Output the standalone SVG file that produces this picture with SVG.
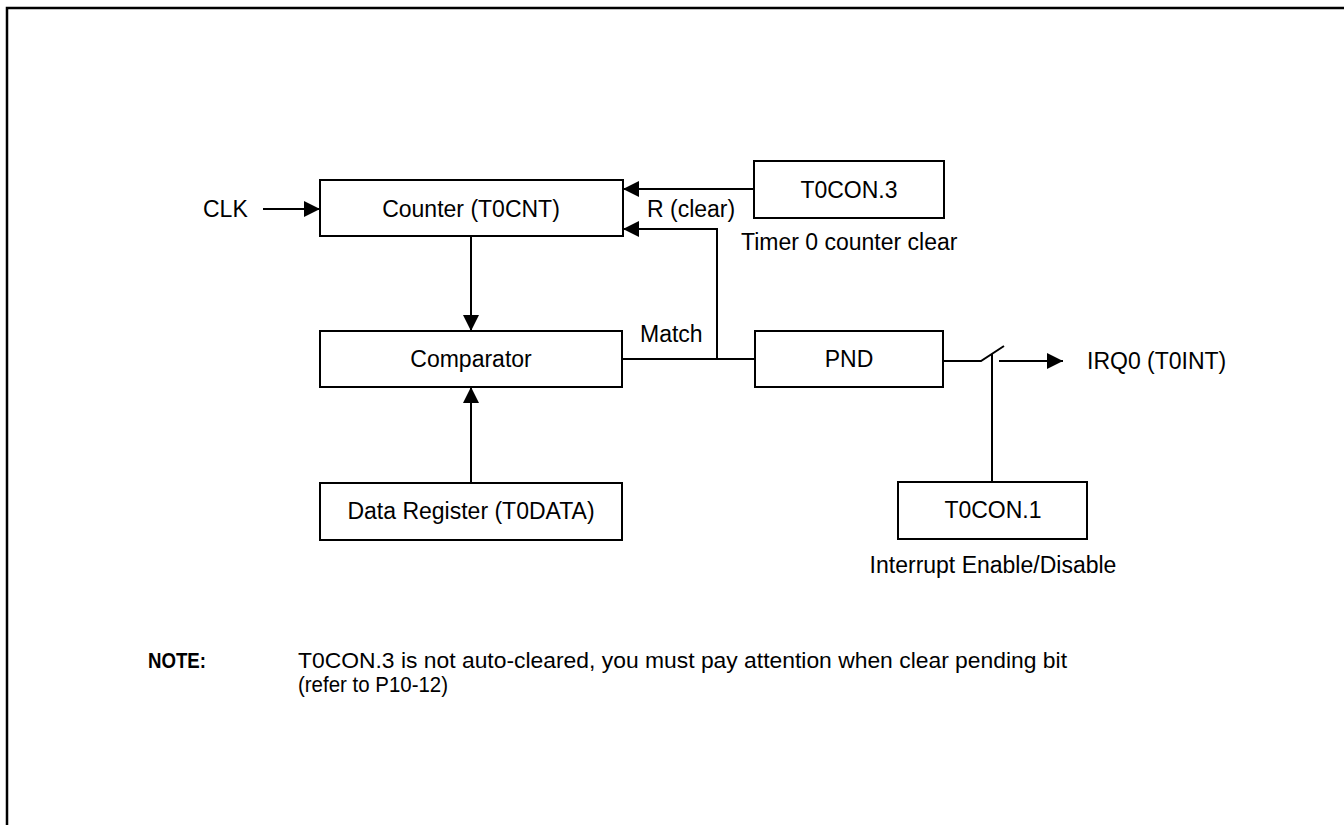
<svg xmlns="http://www.w3.org/2000/svg" width="1344" height="825" viewBox="0 0 1344 825">
<defs>
<marker id="ah" markerUnits="userSpaceOnUse" markerWidth="16" markerHeight="16" refX="16" refY="8" orient="auto">
<path d="M0,0 L16,8 L0,16 Z" fill="#000"/>
</marker>
<style>
.box{fill:#fff;stroke:#000;stroke-width:2}
.ln{fill:none;stroke:#000;stroke-width:2}
.t{font-family:"Liberation Sans",Arial,sans-serif;font-size:23px;fill:#000}
.m{text-anchor:middle}
.n{font-family:"Liberation Sans Narrow","Liberation Sans",Arial,sans-serif;font-size:22px;fill:#000}
</style>
</defs>
<rect width="1344" height="825" fill="#fff"/>
<path d="M7,825 V8 H1344" fill="none" stroke="#000" stroke-width="2.5"/>

<g id="connectors">
<line class="ln" x1="263" y1="209" x2="320" y2="209" marker-end="url(#ah)"/>
<line class="ln" x1="754" y1="189" x2="623" y2="189" marker-end="url(#ah)"/>
<polyline class="ln" points="717,359 717,229 623,229" marker-end="url(#ah)"/>
<line class="ln" x1="471" y1="236" x2="471" y2="331" marker-end="url(#ah)"/>
<line class="ln" x1="471" y1="483" x2="471" y2="387" marker-end="url(#ah)"/>
<line class="ln" x1="622" y1="359" x2="755" y2="359"/>
<polyline class="ln" points="943,361 981,361 1004,346"/>
<line class="ln" x1="992" y1="354" x2="992" y2="482"/>
<line class="ln" x1="999" y1="361" x2="1063" y2="361" marker-end="url(#ah)"/>
</g>

<g id="clk"><text class="t" x="203" y="217">CLK</text></g>
<g id="counter"><rect class="box" x="320" y="180" width="303" height="56"/><text class="t m" x="471" y="217">Counter (T0CNT)</text></g>
<g id="t0con3"><rect class="box" x="754" y="161" width="190" height="57"/><text class="t m" x="849" y="198">T0CON.3</text></g>
<g id="rclear"><text class="t" x="647" y="217">R (clear)</text></g>
<g id="timerclear"><text class="t" x="741" y="250">Timer 0 counter clear</text></g>
<g id="match"><text class="t" x="640" y="342">Match</text></g>
<g id="comparator"><rect class="box" x="320" y="331" width="302" height="56"/><text class="t m" x="471" y="367">Comparator</text></g>
<g id="pnd"><rect class="box" x="755" y="331" width="188" height="56"/><text class="t m" x="849" y="367">PND</text></g>
<g id="irq"><text class="t" x="1087" y="369">IRQ0 (T0INT)</text></g>
<g id="dataregister"><rect class="box" x="320" y="483" width="302" height="57"/><text class="t m" x="471" y="519">Data Register (T0DATA)</text></g>
<g id="t0con1"><rect class="box" x="898" y="482" width="189" height="57"/><text class="t m" x="993" y="518">T0CON.1</text></g>
<g id="intenable"><text class="t m" x="993" y="573">Interrupt Enable/Disable</text></g>

<g id="note">
<text class="n" x="148" y="668" font-weight="bold" textLength="58" lengthAdjust="spacingAndGlyphs">NOTE:</text>
<text class="n" x="298" y="668" textLength="769" lengthAdjust="spacingAndGlyphs">T0CON.3 is not auto-cleared, you must pay attention when clear pending bit</text>
<text class="n" x="298" y="692" textLength="150" lengthAdjust="spacingAndGlyphs">(refer to P10-12)</text>
</g>
</svg>
